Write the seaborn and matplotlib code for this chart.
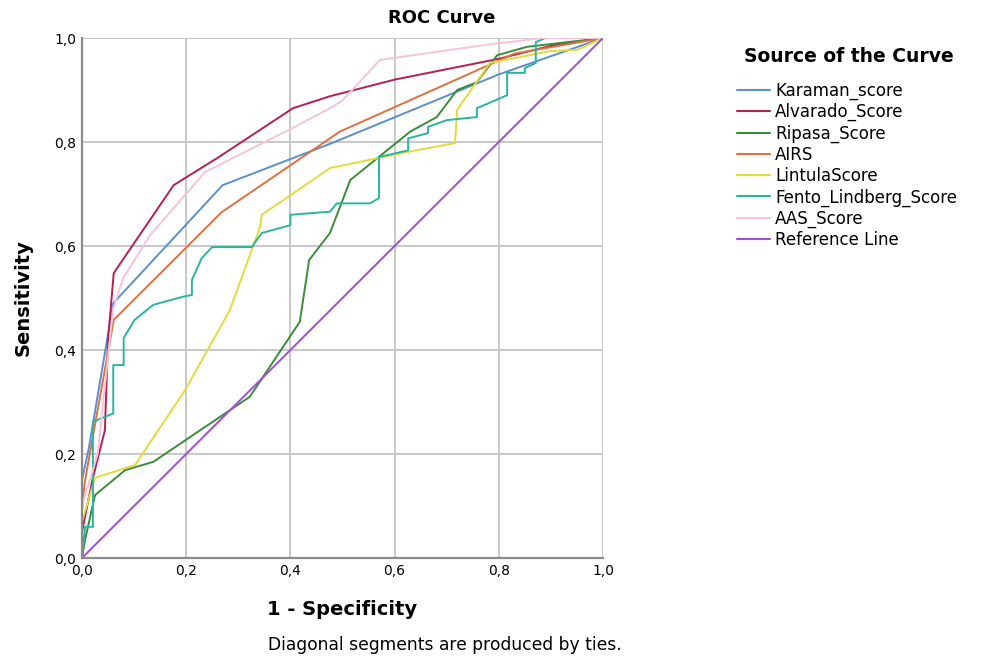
import matplotlib
matplotlib.use("Agg")
import matplotlib.pyplot as plt
import matplotlib.ticker as mticker
import pandas as pd
import seaborn as sns

# ROC curve points (1 - specificity, sensitivity)
karaman_fpr = [0.0, 0.0, 0.013, 0.06, 0.27, 0.48, 0.8, 1.0]
karaman_tpr = [0.0, 0.15, 0.21, 0.49, 0.717, 0.798, 0.93, 1.0]

alvarado_fpr = [0.0, 0.0, 0.02, 0.044, 0.05, 0.061, 0.176, 0.261, 0.405, 0.476, 0.6, 0.8, 0.9, 1.0]
alvarado_tpr = [0.0, 0.05, 0.15, 0.246, 0.42, 0.548, 0.717, 0.77, 0.865, 0.888, 0.92, 0.96, 0.985, 1.0]

ripasa_fpr = [0.0, 0.006, 0.025, 0.083, 0.137, 0.322, 0.418, 0.436, 0.476, 0.515, 0.63, 0.681,
              0.72, 0.758, 0.797, 0.854, 1.0]
ripasa_tpr = [0.0, 0.035, 0.121, 0.169, 0.185, 0.31, 0.454, 0.573, 0.625, 0.727, 0.82, 0.848,
              0.9, 0.915, 0.967, 0.983, 1.0]

airs_fpr = [0.0, 0.0, 0.005, 0.061, 0.268, 0.495, 0.83, 1.0]
airs_tpr = [0.0, 0.09, 0.144, 0.458, 0.665, 0.82, 0.97, 1.0]

lintula_fpr = [0.0, 0.0, 0.025, 0.102, 0.198, 0.284, 0.342, 0.345, 0.443, 0.476, 0.626, 0.716,
               0.72, 0.783, 0.9, 0.95, 1.0]
lintula_tpr = [0.0, 0.07, 0.154, 0.179, 0.323, 0.477, 0.637, 0.66, 0.727, 0.75, 0.781, 0.798,
               0.862, 0.952, 0.975, 0.977, 1.0]

fento_fpr = [0.0, 0.006, 0.021, 0.021, 0.06, 0.06, 0.08, 0.08, 0.101, 0.137, 0.192, 0.211, 0.211,
             0.23, 0.25, 0.326, 0.345, 0.4, 0.4, 0.476, 0.489, 0.553, 0.57, 0.57, 0.626, 0.626,
             0.664, 0.664, 0.7, 0.758, 0.758, 0.816, 0.816, 0.85, 0.85, 0.871, 0.871, 0.889, 1.0]
fento_tpr = [0.0, 0.06, 0.06, 0.262, 0.278, 0.371, 0.371, 0.423, 0.458, 0.487, 0.502, 0.506, 0.535,
             0.577, 0.598, 0.598, 0.625, 0.64, 0.66, 0.666, 0.682, 0.682, 0.692, 0.771, 0.784, 0.807,
             0.817, 0.829, 0.842, 0.848, 0.865, 0.89, 0.933, 0.933, 0.942, 0.952, 0.992, 1.0, 1.0]

aas_fpr = [0.0, 0.0, 0.03, 0.06, 0.079, 0.13, 0.236, 0.41, 0.476, 0.5, 0.572, 0.777, 0.885, 1.0]
aas_tpr = [0.0, 0.1, 0.2, 0.48, 0.538, 0.62, 0.742, 0.83, 0.865, 0.88, 0.958, 0.987, 1.0, 1.0]

ref_fpr = [0.0, 1.0]
ref_tpr = [0.0, 1.0]

series = [
    ("Karaman_score", karaman_fpr, karaman_tpr),
    ("Alvarado_Score", alvarado_fpr, alvarado_tpr),
    ("Ripasa_Score", ripasa_fpr, ripasa_tpr),
    ("AIRS", airs_fpr, airs_tpr),
    ("LintulaScore", lintula_fpr, lintula_tpr),
    ("Fento_Lindberg_Score", fento_fpr, fento_tpr),
    ("AAS_Score", aas_fpr, aas_tpr),
    ("Reference Line", ref_fpr, ref_tpr),
]
colors = ["#5a8fd0", "#b5204f", "#3a8c3a", "#e07040", "#e2dc3a", "#2ab59e", "#f6c4da", "#9a50d8"]

rows = []
for name, xs, ys in series:
    for i, (x, y) in enumerate(zip(xs, ys)):
        rows.append({"curve": name, "order": i, "fpr": x, "tpr": y})
df = pd.DataFrame(rows)

sns.set_style("white")
plt.rcParams["font.family"] = ["DejaVu Sans"]
plt.rcParams["text.color"] = "black"
plt.rcParams["axes.labelcolor"] = "black"
plt.rcParams["xtick.color"] = "black"
plt.rcParams["ytick.color"] = "black"

fig = plt.figure(figsize=(9.84, 6.61), dpi=100)
ax = fig.add_axes([0.0833, 0.1558, 0.5295, 0.7867])

sns.lineplot(
    data=df, x="fpr", y="tpr", hue="curve", units="curve", estimator=None,
    sort=False, palette=colors, hue_order=[s[0] for s in series],
    linewidth=1.4, ax=ax,
)

ax.set_xlim(0, 1)
ax.set_ylim(0, 1)
ax.xaxis.set_major_locator(mticker.MultipleLocator(0.2))
ax.yaxis.set_major_locator(mticker.MultipleLocator(0.2))
fmt = mticker.FuncFormatter(lambda v, p: f"{v:.1f}".replace(".", ","))
ax.xaxis.set_major_formatter(fmt)
ax.yaxis.set_major_formatter(fmt)
ax.tick_params(labelsize=10, length=0, pad=4)
ax.grid(True, color="#c8c8c8", linewidth=1.4)
ax.set_axisbelow(True)
for side in ["top", "right"]:
    ax.spines[side].set_visible(False)
for side in ["left", "bottom"]:
    ax.spines[side].set_color("#8a8a8a")
    ax.spines[side].set_linewidth(1.6)

fig.text(0.449, 1 - 18 / 661, "ROC Curve", fontsize=13, fontweight="bold",
         ha="center", va="center")
ax.set_xlabel("1 - Specificity", fontsize=14, fontweight="bold", labelpad=16)
ax.set_ylabel("Sensitivity", fontsize=14, fontweight="bold", labelpad=16)

fig.text(849 / 984, 1 - 57 / 661, "Source of the Curve", fontsize=13.5,
         fontweight="bold", ha="center", va="center")
leg = ax.legend(
    loc="upper left", bbox_to_anchor=(0.742, 0.8865), bbox_transform=fig.transFigure,
    borderaxespad=0, frameon=False, fontsize=12, handlelength=2.0,
    handletextpad=0.3, labelspacing=0.19,
)
for line in leg.get_lines():
    line.set_linewidth(1.5)

fig.text(0.272, 0.016, "Diagonal segments are produced by ties.", fontsize=12.3)

fig.savefig("out.png", dpi=100)
